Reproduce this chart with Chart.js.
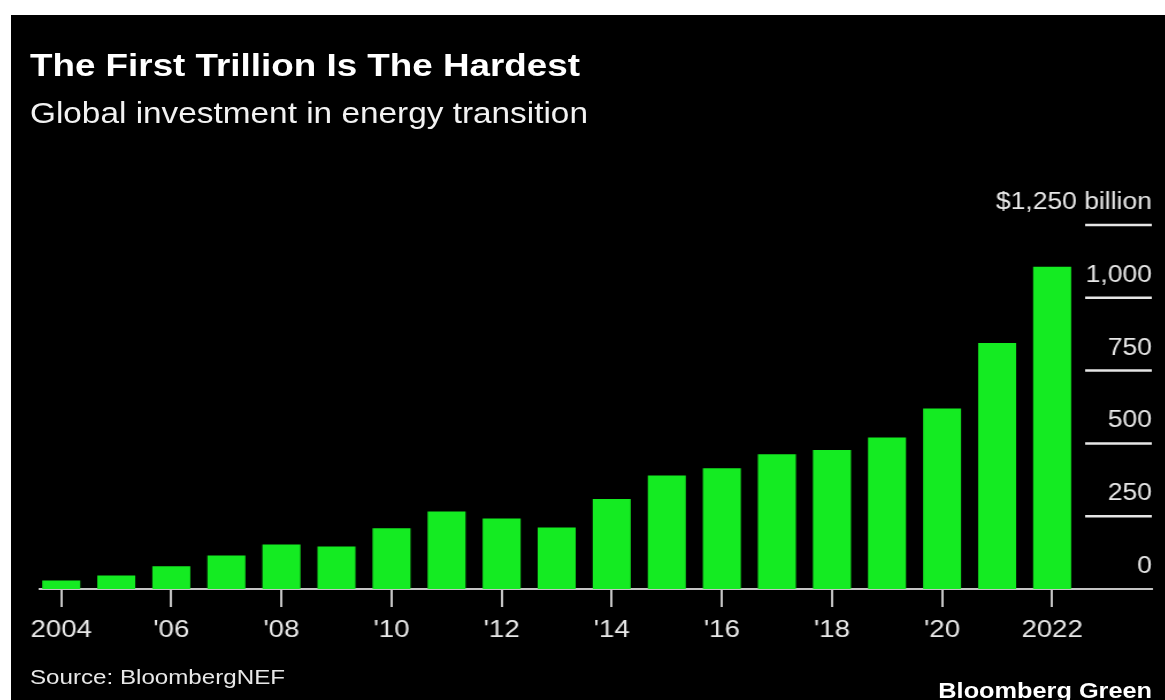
<!DOCTYPE html>
<html>
<head>
<meta charset="utf-8">
<script src="https://cdn.jsdelivr.net/npm/chart.js@4.4.1/dist/chart.umd.min.js"></script>
<style>
  html, body { margin: 0; padding: 0; background: #fff; }
  body { width: 1165px; height: 700px; overflow: hidden; position: relative; }
  #panel { position: absolute; left: 11px; top: 15px; width: 1154px; height: 685px; background: #000; overflow: hidden; }
  /* the reference type is set wide, so the whole panel is stretched a little */
  #stretch { position: absolute; left: 0; top: 0; width: 1003.5px; height: 685px; transform: scaleX(1.15); transform-origin: 0 0; font-family: "Liberation Sans", Arial, sans-serif; }
  .txt { position: absolute; line-height: 1; white-space: nowrap; }
  #title { left: 16.5px; top: 34px; font-size: 32px; font-weight: bold; color: #fff; }
  #subtitle { left: 16.5px; top: 83.5px; font-size: 29px; color: #f2f2f2; }
  #source { left: 16.5px; top: 651px; font-size: 21px; color: #e8e8e8; }
  #brand { right: 11.3px; top: 664.5px; font-size: 22px; font-weight: bold; color: #fff; }
  #chart { position: absolute; left: 0; top: 150px; }
</style>
</head>
<body>
<div id="panel">
  <div id="stretch">
    <div class="txt" id="title">The First Trillion Is The Hardest</div>
    <div class="txt" id="subtitle">Global investment in energy transition</div>
    <canvas id="chart" width="1003" height="476"></canvas>
    <div class="txt" id="source">Source: BloombergNEF</div>
    <div class="txt" id="brand">Bloomberg Green</div>
  </div>
</div>
<script>
// Global investment in energy transition, $ billion
const years = [2004, 2005, 2006, 2007, 2008, 2009, 2010, 2011, 2012, 2013,
               2014, 2015, 2016, 2017, 2018, 2019, 2020, 2021, 2022];
const investment = [29, 46, 78, 115, 153, 146, 209, 266, 242, 211,
                    309, 390, 415, 463, 477, 520, 620, 845, 1107];

const xTickYears = [2004, 2006, 2008, 2010, 2012, 2014, 2016, 2018, 2020, 2022];
const xTickLabels = ['2004', "'06", "'08", "'10", "'12", "'14", "'16", "'18", "'20", '2022'];
const yTickValues = [0, 250, 500, 750, 1000, 1250];
const yTickLabels = ['0', '250', '500', '750', '1,000', '$1,250 billion'];

const GREEN = '#14eb22';
const AXIS = '#c4c4c4';
const LABEL = '#e8e8e8';
const FONT = '"Liberation Sans", Arial, sans-serif';

// short gridlines on the right with labels sitting on top of them
const rightGrid = {
    id: 'rightGrid',
    afterDatasetsDraw(chart) {
        const { ctx, chartArea, scales: { y } } = chart;
        ctx.save();
        ctx.font = `23px ${FONT}`;
        ctx.fillStyle = LABEL;
        ctx.textAlign = 'right';
        ctx.textBaseline = 'alphabetic';
        yTickValues.forEach((v, i) => {
            const py = y.getPixelForValue(v);
            if (v !== 0) {
                ctx.strokeStyle = '#e6e6e6';
                ctx.lineWidth = 2.5;
                ctx.beginPath();
                ctx.moveTo(chartArea.right - 58, py);
                ctx.lineTo(chartArea.right, py);
                ctx.stroke();
            }
            ctx.fillText(yTickLabels[i], chartArea.right, py - 16);
        });
        ctx.restore();
    }
};

new Chart(document.getElementById('chart'), {
    type: 'bar',
    data: {
        datasets: [{
            data: years.map((yr, i) => ({ x: yr, y: investment[i] })),
            backgroundColor: GREEN,
            borderWidth: 0,
            categoryPercentage: 1,
            barPercentage: 0.69
        }]
    },
    options: {
        responsive: false,
        animation: false,
        layout: { padding: { left: 25, right: 11, top: 60, bottom: 0 } },
        plugins: { legend: { display: false }, tooltip: { enabled: false } },
        scales: {
            x: {
                type: 'linear',
                min: 2003.61,
                max: 2023.81,
                offset: false,
                afterBuildTicks: axis => { axis.ticks = xTickYears.map(v => ({ value: v })); },
                afterFit: axis => { axis.height = 52; },
                grid: { offset: false, drawOnChartArea: false, drawTicks: true, tickLength: 18, color: AXIS, lineWidth: 2 },
                border: { display: true, color: AXIS, width: 2 },
                ticks: {
                    autoSkip: false,
                    maxRotation: 0,
                    padding: 9,
                    color: LABEL,
                    font: { family: FONT, size: 24 },
                    callback: (v, i) => xTickLabels[i]
                }
            },
            y: {
                display: false,
                min: 0,
                max: 1250
            }
        }
    },
    plugins: [rightGrid]
});
</script>
</body>
</html>
